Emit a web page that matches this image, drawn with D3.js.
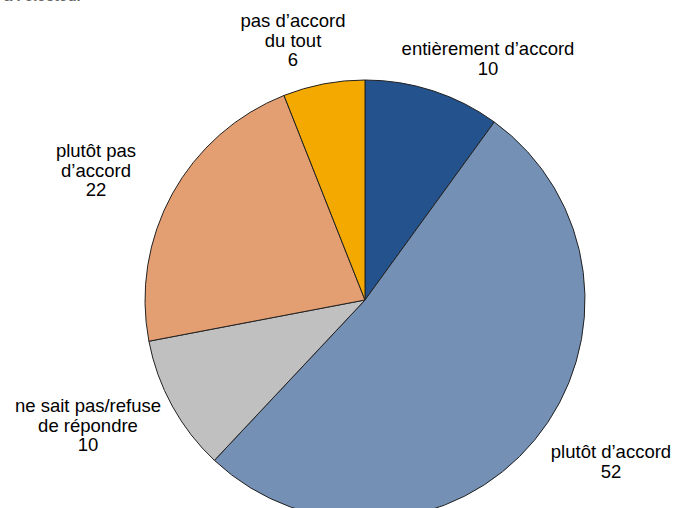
<!DOCTYPE html>
<html><head><meta charset="utf-8">
<script src="https://cdn.jsdelivr.net/npm/d3@7"></script>
<style>body{margin:0;background:#fff}svg{display:block}</style>
</head><body>
<svg id="c" width="674" height="508"></svg>
<script>
const categories = ["entièrement d’accord","plutôt d’accord","ne sait pas/refuse de répondre","plutôt pas d’accord","pas d’accord du tout"];
const values = [10, 52, 10, 22, 6];
const labelLines = [["entièrement d’accord"],["plutôt d’accord"],["ne sait pas/refuse","de répondre"],["plutôt pas","d’accord"],["pas d’accord","du tout"]];
const colors = ["#23528c","#7590b5","#c0c0c0","#e39e72","#f4a900"];
const labelPos = [[488,55],[611,458],[88,412],[96,157],[293,27]];

const svg = d3.select("#c");
const cx = 365, cy = 300, r = 220;
const data = categories.map((c,i)=>({c, v: values[i], i}));
const pie = d3.pie().sort(null).value(d=>d.v);
const arc = d3.arc().innerRadius(0).outerRadius(r);
const g = svg.append("g").attr("transform",`translate(${cx},${cy})`);
g.selectAll("path").data(pie(data)).join("path")
  .attr("d", arc).attr("fill", d=>colors[d.data.i])
  .attr("stroke","#222").attr("stroke-width",1);

svg.append("text").attr("x",4).attr("y",0.5).attr("font-family","Liberation Sans, Arial, sans-serif")
  .attr("font-size",15).attr("font-weight","bold").attr("fill","#666").text("à l’électeur");

const lh = 19.5;
data.forEach((d,i)=>{
  const t = svg.append("text").attr("text-anchor","middle")
    .attr("font-family","Liberation Sans, Arial, sans-serif").attr("font-size",18.5).attr("fill","#000");
  const lines = labelLines[i].concat([String(d.v)]);
  lines.forEach((l,k)=>{
    t.append("tspan").attr("x",labelPos[i][0]).attr("y",labelPos[i][1]+k*lh).text(l);
  });
});
</script>
</body></html>
